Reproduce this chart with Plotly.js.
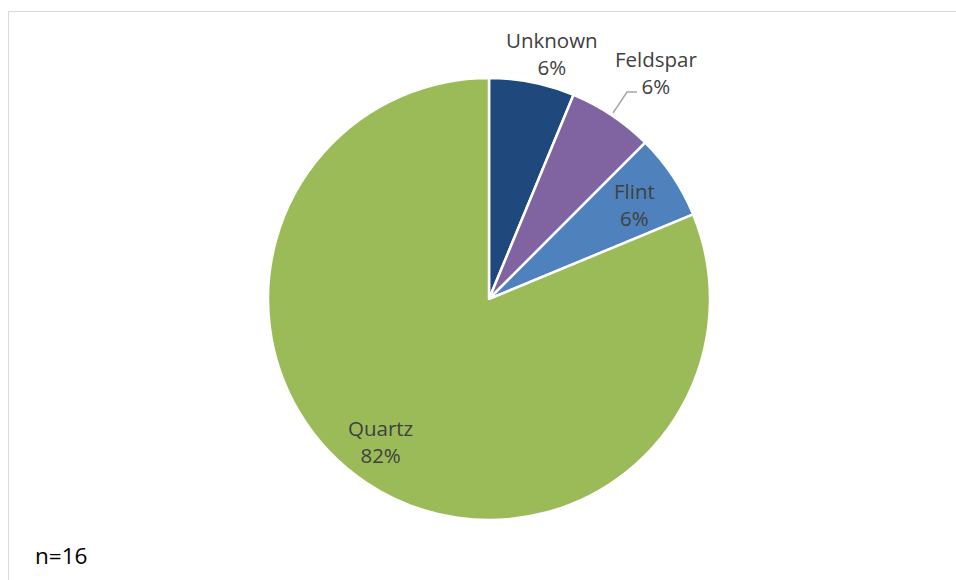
<!DOCTYPE html>
<html>
<head>
<meta charset="utf-8">
<script src="https://cdn.plot.ly/plotly-3.0.1.min.js"></script>
<style>html,body{margin:0;padding:0;background:#fff;}#chart{width:956px;height:580px;}</style>
</head>
<body>
<div id="chart"></div>
<script>
const categories = ["Unknown", "Feldspar", "Flint", "Quartz"];
const counts = [1, 1, 1, 13];
const pctLabels = ["6%", "6%", "6%", "82%"];
const colors = ["#1F497D", "#8064A2", "#4F81BD", "#9BBB59"];
const sampleNote = "n=16";

const W = 956, H = 580;
const px = x => x / W;
const py = y => 1 - y / H;

// label anchor positions (pixels)
const labelPos = [[552, 54], [656, 72], [634, 204], [380, 441]];

const annotations = categories.map((c, i) => ({
  text: c + "<br>" + pctLabels[i],
  x: px(labelPos[i][0]), y: py(labelPos[i][1]),
  xref: "paper", yref: "paper", showarrow: false,
  xanchor: "center", yanchor: "middle",
  font: {family: "Open Sans, sans-serif", size: 20.5, color: "#404040"}
}));
annotations.push({
  text: sampleNote, x: px(33), y: py(555), xref: "paper", yref: "paper",
  showarrow: false, xanchor: "left", yanchor: "middle",
  font: {family: "Open Sans, sans-serif", size: 22.5, color: "#000000"}
});

const trace = {
  type: "pie",
  labels: categories,
  values: counts,
  sort: false,
  direction: "clockwise",
  rotation: 0,
  textinfo: "none",
  hoverinfo: "label+percent",
  marker: {colors: colors, line: {color: "#ffffff", width: 2.5}},
  domain: {x: [px(489 - 221), px(489 + 221)], y: [py(299 + 221), py(299 - 221)]},
  showlegend: false
};

const layout = {
  width: W, height: H,
  margin: {l: 0, r: 0, t: 0, b: 0},
  paper_bgcolor: "#ffffff",
  showlegend: false,
  annotations: annotations,
  shapes: [
    {type: "line", xref: "paper", yref: "paper", x0: px(8.5), x1: px(8.5), y0: py(11.5), y1: 0, line: {color: "#d9d9d9", width: 1}},
    {type: "line", xref: "paper", yref: "paper", x0: px(8.5), x1: 1, y0: py(11.5), y1: py(11.5), line: {color: "#d9d9d9", width: 1}},
    {type: "path", xref: "paper", yref: "paper",
     path: "M " + px(613) + "," + py(113) + " L " + px(627) + "," + py(92) + " L " + px(637) + "," + py(92),
     line: {color: "#a6a6a6", width: 1.5}}
  ]
};

Plotly.newPlot("chart", [trace], layout, {displayModeBar: false, staticPlot: true});
</script>
</body>
</html>
